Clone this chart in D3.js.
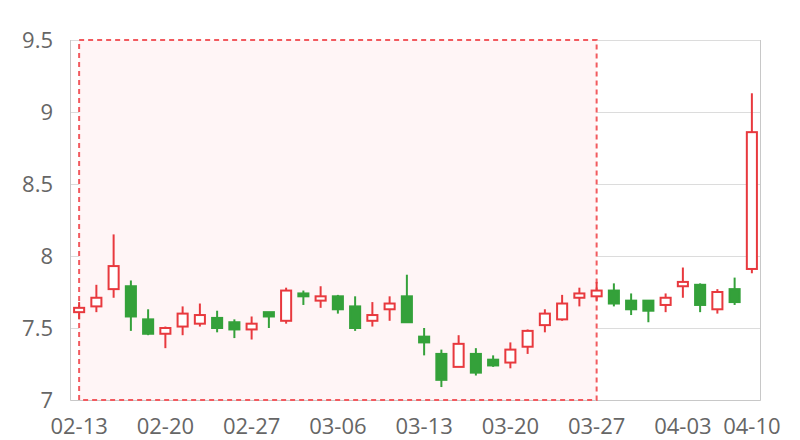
<!DOCTYPE html>
<html>
<head>
<meta charset="utf-8">
<script src="https://cdn.jsdelivr.net/npm/d3@7/dist/d3.min.js"></script>
<style>
  html, body { margin: 0; padding: 0; background: #fff; }
  svg { display: block; }
  text { font-family: "Open Sans", "Noto Sans", sans-serif; }
</style>
</head>
<body>
<svg id="chart" width="800" height="440"></svg>
<script>
const dates = ["02-13","02-14","02-17","02-18","02-19","02-20","02-21","02-24","02-25","02-26",
  "02-27","02-28","03-03","03-04","03-05","03-06","03-07","03-10","03-11","03-12",
  "03-13","03-14","03-17","03-18","03-19","03-20","03-21","03-24","03-25","03-26",
  "03-27","03-28","03-31","04-01","04-02","04-03","04-07","04-08","04-09","04-10"];
const openVals  = [7.61,7.65,7.77,7.79,7.56,7.46,7.51,7.53,7.57,7.54,
  7.49,7.61,7.55,7.74,7.69,7.72,7.65,7.55,7.63,7.72,
  7.44,7.32,7.23,7.32,7.28,7.26,7.37,7.52,7.56,7.71,
  7.72,7.76,7.69,7.69,7.66,7.79,7.80,7.63,7.77,7.91];
const closeVals = [7.64,7.71,7.93,7.58,7.46,7.50,7.60,7.59,7.50,7.49,
  7.53,7.58,7.76,7.72,7.72,7.63,7.50,7.59,7.67,7.54,
  7.40,7.14,7.39,7.19,7.24,7.35,7.48,7.60,7.67,7.74,
  7.76,7.67,7.63,7.62,7.71,7.82,7.66,7.75,7.68,8.86];
const lowVals   = [7.56,7.61,7.71,7.48,7.45,7.36,7.45,7.51,7.47,7.43,
  7.42,7.50,7.53,7.66,7.64,7.60,7.48,7.51,7.55,7.54,
  7.31,7.09,7.23,7.17,7.23,7.22,7.32,7.47,7.55,7.65,
  7.69,7.65,7.59,7.54,7.61,7.71,7.61,7.60,7.66,7.88];
const highVals  = [7.68,7.80,8.15,7.83,7.63,7.51,7.65,7.67,7.62,7.56,
  7.58,7.61,7.78,7.76,7.79,7.73,7.72,7.68,7.72,7.87,
  7.50,7.35,7.45,7.36,7.31,7.40,7.49,7.63,7.73,7.78,
  7.82,7.81,7.74,7.69,7.74,7.92,7.81,7.77,7.85,9.13];
const yTicks = [7, 7.5, 8, 8.5, 9, 9.5];
const xTickLabels = ["02-13","02-20","02-27","03-06","03-13","03-20","03-27","04-03","04-10"];
const highlightRange = ["02-13", "03-27"];

const upColor = "#e8393e";
const downColor = "#34a13a";

const svg = d3.select("#chart");
const plotLeft = 70.5, plotRight = 760.5, plotTop = 40, plotBottom = 400;

const x = d3.scaleBand().domain(dates).range([plotLeft, plotRight]).paddingInner(0.3).paddingOuter(0.15);
const y = d3.scaleLinear().domain([7, 9.5]).range([plotBottom, plotTop]);
const cx = d => x(d) + x.bandwidth() / 2;

// grid lines
svg.append("g").selectAll("line").data(yTicks).join("line")
  .attr("x1", plotLeft).attr("x2", plotRight)
  .attr("y1", d => Math.round(y(d)) + 0.5).attr("y2", d => Math.round(y(d)) + 0.5)
  .attr("stroke", "#dcdcdc").attr("stroke-width", 1);

// border (left, right, bottom)
svg.append("line").attr("x1", plotLeft).attr("x2", plotLeft).attr("y1", plotTop).attr("y2", plotBottom + 0.5)
  .attr("stroke", "#c8c8c8");
svg.append("line").attr("x1", plotRight).attr("x2", plotRight).attr("y1", plotTop).attr("y2", plotBottom + 0.5)
  .attr("stroke", "#c8c8c8");
svg.append("line").attr("x1", plotLeft).attr("x2", plotRight).attr("y1", plotBottom + 0.5).attr("y2", plotBottom + 0.5)
  .attr("stroke", "#c8c8c8");

// highlight area
const hx0 = cx(highlightRange[0]), hx1 = cx(highlightRange[1]);
svg.append("rect")
  .attr("x", hx0).attr("y", y(9.5)).attr("width", hx1 - hx0).attr("height", y(7) - y(9.5))
  .attr("fill", "#fff5f6")
  .attr("stroke", "#f25a5f").attr("stroke-width", 2).attr("stroke-dasharray", "5,4");

// candles
const data = dates.map((d, i) => ({ d, o: openVals[i], c: closeVals[i], l: lowVals[i], h: highVals[i] }));
const g = svg.append("g");
const bw = x.bandwidth();
data.forEach(k => {
  const up = k.c >= k.o;
  const col = up ? upColor : downColor;
  const xc = cx(k.d);
  const yTop = y(Math.max(k.o, k.c)), yBot = y(Math.min(k.o, k.c));
  g.append("line").attr("x1", xc).attr("x2", xc).attr("y1", y(k.h)).attr("y2", yTop)
    .attr("stroke", col).attr("stroke-width", 2);
  g.append("line").attr("x1", xc).attr("x2", xc).attr("y1", yBot).attr("y2", y(k.l))
    .attr("stroke", col).attr("stroke-width", 2);
  g.append("rect")
    .attr("x", xc - bw / 2 + 1).attr("y", yTop)
    .attr("width", bw - 2).attr("height", Math.max(1, yBot - yTop))
    .attr("fill", up ? "#ffffff" : downColor)
    .attr("stroke", col).attr("stroke-width", 2);
});

// y axis labels
svg.append("g").selectAll("text").data(yTicks).join("text")
  .attr("x", 53).attr("y", d => y(d))
  .attr("dy", "0.36em")
  .attr("text-anchor", "end")
  .attr("font-size", 22).attr("fill", "#666")
  .text(d => d3.format("")(d));

// x axis labels
svg.append("g").selectAll("text").data(xTickLabels).join("text")
  .attr("x", d => cx(d)).attr("y", 434)
  .attr("text-anchor", "middle")
  .attr("font-size", 22).attr("fill", "#666")
  .text(d => d);
</script>
</body>
</html>
